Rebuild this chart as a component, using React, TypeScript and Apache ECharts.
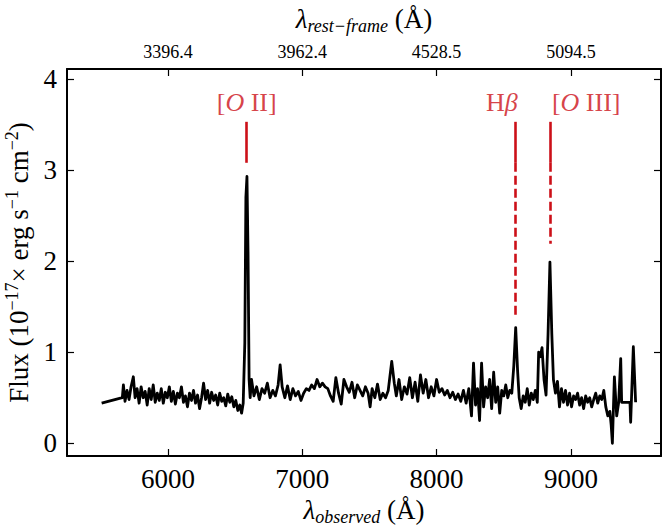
import React, { useEffect, useRef } from "react";
import * as echarts from "echarts";

// Observed wavelength (Å) of each sample
const wavelengths = [
  5506, 5660, 5668, 5680, 5695, 5710, 5725, 5742, 5755, 5770, 5785, 5800, 5815, 5830, 5845, 5860, 5875, 5890, 5905, 5920,
  5935, 5950, 5965, 5980, 5995, 6010, 6025, 6040, 6055, 6070, 6085, 6100, 6115, 6130, 6145, 6160, 6175, 6190, 6205, 6220,
  6235, 6250, 6265, 6280, 6295, 6310, 6325, 6340, 6355, 6370, 6385, 6400, 6415, 6430, 6445, 6460, 6475, 6490, 6505, 6520,
  6535, 6548, 6560, 6572, 6580, 6588, 6596, 6604, 6612, 6622, 6640, 6660, 6680, 6700, 6720, 6740, 6760, 6780, 6800, 6820,
  6835, 6850, 6870, 6890, 6910, 6930, 6950, 6970, 6990, 7010, 7030, 7050, 7070, 7090, 7110, 7130, 7150, 7170, 7190, 7210,
  7230, 7250, 7270, 7290, 7310, 7330, 7350, 7370, 7390, 7410, 7430, 7450, 7470, 7490, 7505, 7520, 7540, 7560, 7580, 7600,
  7620, 7640, 7666, 7685, 7700, 7720, 7740, 7760, 7780, 7800, 7820, 7840, 7860, 7880, 7900, 7920, 7940, 7960, 7980, 8000,
  8020, 8040, 8060, 8080, 8100, 8120, 8140, 8160, 8180, 8200, 8220, 8240, 8260, 8275, 8290, 8305, 8320, 8335, 8350, 8365,
  8380, 8395, 8410, 8425, 8440, 8455, 8470, 8485, 8500, 8515, 8530, 8545, 8560, 8575, 8589, 8603, 8615, 8630, 8645, 8660,
  8675, 8690, 8705, 8720, 8735, 8750, 8760, 8772, 8785, 8800, 8815, 8830, 8844, 8858, 8870, 8885, 8900, 8915, 8930, 8945,
  8960, 8975, 8990, 9005, 9020, 9035, 9050, 9065, 9080, 9095, 9110, 9125, 9140, 9155, 9170, 9185, 9200, 9215, 9230, 9245,
  9260, 9275, 9290, 9300, 9309, 9317, 9324, 9341, 9356, 9371, 9378, 9400, 9420, 9440, 9445, 9465, 9482,
];

// Flux (1e-17 erg s^-1 cm^-2 Å^-1)
const flux = [
  0.44, 0.50, 0.64, 0.46, 0.58, 0.48, 0.62, 0.73, 0.50, 0.60, 0.44, 0.62, 0.50, 0.57, 0.42, 0.60, 0.48, 0.64, 0.45, 0.55,
  0.47, 0.60, 0.44, 0.56, 0.50, 0.62, 0.46, 0.57, 0.43, 0.55, 0.50, 0.62, 0.45, 0.52, 0.40, 0.55, 0.47, 0.58, 0.44, 0.53,
  0.38, 0.50, 0.66, 0.48, 0.58, 0.44, 0.56, 0.47, 0.53, 0.42, 0.55, 0.46, 0.50, 0.41, 0.54, 0.45, 0.51, 0.40, 0.47, 0.36,
  0.42, 0.33, 0.44, 1.10, 2.70, 2.93, 2.10, 0.70, 0.50, 0.70, 0.52, 0.62, 0.48, 0.60, 0.55, 0.66, 0.50, 0.58, 0.52, 0.64,
  0.86, 0.62, 0.50, 0.63, 0.48, 0.60, 0.52, 0.57, 0.47, 0.55, 0.60, 0.58, 0.64, 0.60, 0.70, 0.62, 0.66, 0.62, 0.60, 0.52,
  0.46, 0.72, 0.55, 0.43, 0.70, 0.62, 0.56, 0.67, 0.50, 0.64, 0.58, 0.52, 0.62, 0.55, 0.40, 0.60, 0.50, 0.65, 0.48, 0.55,
  0.50, 0.58, 0.90, 0.66, 0.52, 0.70, 0.48, 0.62, 0.54, 0.72, 0.50, 0.67, 0.46, 0.75, 0.55, 0.70, 0.50, 0.62, 0.52, 0.70,
  0.56, 0.60, 0.53, 0.58, 0.50, 0.56, 0.48, 0.54, 0.46, 0.58, 0.44, 0.60, 0.30, 0.88, 0.42, 0.60, 0.25, 0.88, 0.40, 0.62,
  0.50, 0.70, 0.38, 0.78, 0.45, 0.62, 0.33, 0.58, 0.52, 0.64, 0.50, 0.58, 0.55, 0.85, 1.27, 0.80, 0.50, 0.38, 0.52, 0.45,
  0.60, 0.42, 0.55, 0.48, 0.58, 0.45, 1.00, 0.95, 1.05, 0.70, 0.53, 1.20, 1.99, 1.20, 0.70, 0.55, 0.68, 0.40, 0.60, 0.45,
  0.58, 0.42, 0.55, 0.40, 0.52, 0.48, 0.55, 0.42, 0.50, 0.38, 0.52, 0.45, 0.50, 0.40, 0.48, 0.55, 0.44, 0.52, 0.48, 0.58,
  0.40, 0.30, 0.35, 0.20, 0.00, 0.40, 0.73, 0.30, 0.45, 0.93, 0.45, 0.45, 0.45, 0.45, 0.23, 1.06, 0.45,
];

const bottomTicks = [6000, 7000, 8000, 9000];
const topTickLabels = ["3396.4", "3962.4", "4528.5", "5094.5"];
const yTicks = [0, 1, 2, 3, 4];

// Emission line markers
const lineKeys = ["oii", "hb", "oiii"];
const lineObserved = [6586, 8589, 8844];
const lineTop = [3.53, 3.53, 3.53];
const lineSolidEnd = [3.08, 3.08, 3.08];
const lineDashEnd = [3.08, 1.39, 2.19];
const labelY = [3.74, 3.74, 3.74];

const X_MIN = 5248;
const X_MAX = 9671;
const Y_MIN = -0.14;
const Y_MAX = 4.11;

const SERIF = "'Liberation Serif', 'DejaVu Serif', serif";
const RED = "#cc1018";

export default function App() {
  const ref = useRef<HTMLDivElement>(null);

  useEffect(() => {
    if (!ref.current) return;
    const chart = echarts.init(ref.current, undefined, { renderer: "svg" });

    const spectrum = wavelengths.map((w, i) => [w, flux[i]]);

    const solidLines = lineObserved.map((w, i) => [
      { coord: [w, lineTop[i]] },
      { coord: [w, lineSolidEnd[i]] },
    ]);
    const dashedLines = lineObserved
      .map((w, i) => ({ w, i }))
      .filter(({ i }) => lineDashEnd[i] < lineSolidEnd[i])
      .map(({ w, i }) => [{ coord: [w, lineSolidEnd[i]] }, { coord: [w, lineDashEnd[i]] }]);

    const labelRich = {
      r: { fontFamily: SERIF, fontSize: 26, color: RED },
      i: { fontFamily: SERIF, fontSize: 26, color: RED, fontStyle: "italic" },
    };
    const labelText: Record<string, string> = {
      oii: "{r|[}{i|O}{r| II]}",
      hb: "{r|H}{i|β}",
      oiii: "{r|[}{i|O}{r| III]}",
    };
    const labelAlign: Record<string, string> = { oii: "center", hb: "right", oiii: "left" };
    const labelOffset: Record<string, number[]> = { oii: [0, 0], hb: [2, 0], oiii: [2, 0] };

    const labelData = lineKeys.map((k, i) => ({
      value: [lineObserved[i], labelY[i]],
      label: {
        show: true,
        position: "inside",
        formatter: labelText[k],
        align: labelAlign[k],
        offset: labelOffset[k],
        rich: labelRich,
      },
    }));

    const axisNameRich = {
      l: { fontFamily: SERIF, fontSize: 27, fontStyle: "italic", color: "#000", lineHeight: 32 },
      u: { fontFamily: SERIF, fontSize: 27, color: "#000", lineHeight: 32 },
      s: { fontFamily: SERIF, fontSize: 18, fontStyle: "italic", color: "#000", verticalAlign: "bottom", lineHeight: 32, padding: [8, 0, 0, 0] },
    };

    const yNameRich = {
      n: { fontFamily: SERIF, fontSize: 27, color: "#000", lineHeight: 32 },
      sup: { fontFamily: SERIF, fontSize: 18, color: "#000", verticalAlign: "top", lineHeight: 32, padding: [0, 0, 10, 0] },
    };

    const option: any = {
      animation: false,
      backgroundColor: "#fff",
      grid: { left: 67, right: 2, top: 69, bottom: 72, containLabel: false, outerBoundsMode: "none" },
      xAxis: [
        {
          type: "value",
          position: "bottom",
          min: X_MIN,
          max: X_MAX,
          name: "{l|λ}{s|observed}{u| (Å)}",
          nameLocation: "middle",
          nameGap: 38,
          nameTextStyle: { rich: axisNameRich },
          axisLine: { show: true, onZero: false, lineStyle: { color: "#000", width: 2 } },
          axisTick: { show: true, inside: true, length: 7, customValues: bottomTicks, lineStyle: { color: "#000", width: 1.2 } },
          axisLabel: {
            show: true,
            customValues: bottomTicks,
            margin: 9,
            fontFamily: SERIF,
            fontSize: 27,
            color: "#000",
            formatter: (v: number) => String(v),
          },
          splitLine: { show: false },
        },
        {
          type: "value",
          position: "top",
          min: X_MIN,
          max: X_MAX,
          name: "{l|λ}{s|rest−frame}{u| (Å)}",
          nameLocation: "middle",
          nameGap: 34,
          nameTextStyle: { rich: axisNameRich },
          axisLine: { show: true, onZero: false, lineStyle: { color: "#000", width: 2 } },
          axisTick: { show: true, inside: true, length: 7, customValues: bottomTicks, lineStyle: { color: "#000", width: 1.2 } },
          axisLabel: {
            show: true,
            customValues: bottomTicks,
            margin: 8,
            fontFamily: SERIF,
            fontSize: 18,
            color: "#000",
            formatter: (v: number) => {
              const idx = bottomTicks.indexOf(Math.round(v));
              return idx >= 0 ? topTickLabels[idx] : "";
            },
          },
          splitLine: { show: false },
        },
      ],
      yAxis: [
        {
          type: "value",
          position: "left",
          min: Y_MIN,
          max: Y_MAX,
          name: "{n|Flux (10}{sup|−17}{n|× erg s}{sup|−1}{n| cm}{sup|−2}{n|)}",
          nameLocation: "middle",
          nameRotate: 90,
          nameGap: 26,
          nameTextStyle: { rich: yNameRich },
          axisLine: { show: true, onZero: false, lineStyle: { color: "#000", width: 2 } },
          axisTick: { show: true, inside: true, length: 7, customValues: yTicks, lineStyle: { color: "#000", width: 1.2 } },
          axisLabel: {
            show: true,
            customValues: yTicks,
            margin: 10,
            fontFamily: SERIF,
            fontSize: 27,
            color: "#000",
            formatter: (v: number) => String(v),
          },
          splitLine: { show: false },
        },
        {
          type: "value",
          position: "right",
          min: Y_MIN,
          max: Y_MAX,
          axisLine: { show: true, onZero: false, lineStyle: { color: "#000", width: 2 } },
          axisTick: { show: true, inside: true, length: 7, customValues: yTicks, lineStyle: { color: "#000", width: 1.2 } },
          axisLabel: { show: false },
          splitLine: { show: false },
        },
      ],
      series: [
        {
          type: "line",
          data: spectrum,
          xAxisIndex: 0,
          yAxisIndex: 0,
          showSymbol: false,
          symbol: "none",
          lineStyle: { color: "#000", width: 2.8, join: "round" },
          z: 3,
          markLine: {
            silent: true,
            symbol: ["none", "none"],
            label: { show: false },
            lineStyle: { color: RED, width: 2.6, type: "solid" },
            data: solidLines,
          },
        },
        {
          type: "line",
          data: [],
          xAxisIndex: 0,
          yAxisIndex: 0,
          z: 2,
          markLine: {
            silent: true,
            symbol: ["none", "none"],
            label: { show: false },
            lineStyle: { color: RED, width: 2.6, type: [9, 4] },
            data: dashedLines,
          },
        },
        {
          type: "scatter",
          xAxisIndex: 0,
          yAxisIndex: 0,
          symbolSize: 0,
          data: labelData,
          silent: true,
          z: 4,
        },
      ],
    };

    chart.setOption(option);
    return () => chart.dispose();
  }, []);

  return <div ref={ref} style={{ width: 663, height: 528, position: "absolute", left: 0, top: 0 }} />;
}
